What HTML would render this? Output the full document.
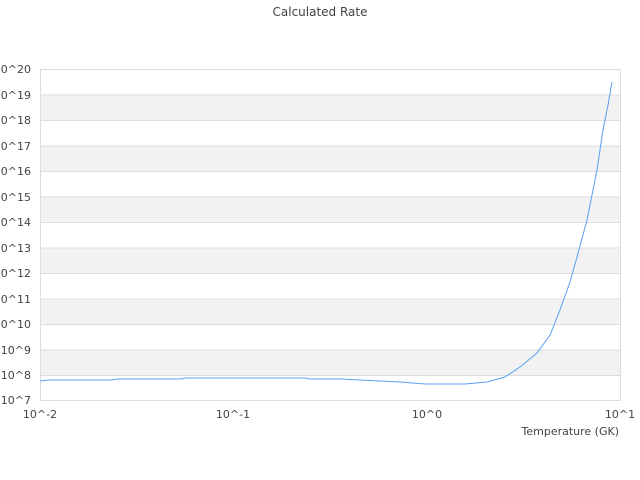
<!DOCTYPE html>
<html><head><style>body{margin:0;background:#fff}svg{display:block}text{font-family:"DejaVu Sans","Liberation Sans",sans-serif;font-size:11px;fill:#444}</style></head><body>
<svg width="640" height="480" xmlns="http://www.w3.org/2000/svg">
<text x="320" y="16" text-anchor="middle" style="font-size:12px">Calculated Rate</text>
<g fill="#f2f2f2">
<rect x="40" y="94.5" width="580" height="25.5"/>
<rect x="40" y="145.5" width="580" height="25.5"/>
<rect x="40" y="196.5" width="580" height="25.5"/>
<rect x="40" y="247.5" width="580" height="25.5"/>
<rect x="40" y="298.5" width="580" height="25.5"/>
<rect x="40" y="349.5" width="580" height="25.5"/>
</g>
<g stroke="#ddd" stroke-width="1">
<line x1="40" y1="69.5" x2="620" y2="69.5"/><line x1="40" y1="95" x2="620" y2="95"/><line x1="40" y1="120.5" x2="620" y2="120.5"/><line x1="40" y1="146" x2="620" y2="146"/><line x1="40" y1="171.5" x2="620" y2="171.5"/><line x1="40" y1="197" x2="620" y2="197"/><line x1="40" y1="222.5" x2="620" y2="222.5"/><line x1="40" y1="248" x2="620" y2="248"/><line x1="40" y1="273.5" x2="620" y2="273.5"/><line x1="40" y1="299" x2="620" y2="299"/><line x1="40" y1="324.5" x2="620" y2="324.5"/><line x1="40" y1="350" x2="620" y2="350"/><line x1="40" y1="375.5" x2="620" y2="375.5"/><line x1="40" y1="400.5" x2="620" y2="400.5"/>
<line x1="40.5" y1="69" x2="40.5" y2="401"/><line x1="620.5" y1="69" x2="620.5" y2="401"/>
</g>
<g text-anchor="end">
<text x="31" y="73">10^20</text><text x="31" y="99">10^19</text><text x="31" y="124">10^18</text><text x="31" y="150">10^17</text><text x="31" y="175">10^16</text><text x="31" y="201">10^15</text><text x="31" y="226">10^14</text><text x="31" y="252">10^13</text><text x="31" y="277">10^12</text><text x="31" y="303">10^11</text><text x="31" y="328">10^10</text><text x="31" y="354">10^9</text><text x="31" y="379">10^8</text><text x="31" y="404">10^7</text>
</g>
<g text-anchor="middle">
<text x="40" y="418">10^-2</text><text x="233" y="418">10^-1</text><text x="427" y="418">10^0</text><text x="620" y="418">10^1</text>
</g>
<text x="619" y="435" text-anchor="end">Temperature (GK)</text>
<polyline fill="none" stroke="#5aa0f0" stroke-width="1" points="40,381 48,380 110,380 118,379 180,379 186,378 305,378 310,379 340,379 360,380 380,381 400,382 425,384 465,384 487,382 505,377 520,367 537,353 550,335 560,310 570,282 577,257 587,220 597,170 603,130 608,105 612,82"/>
</svg>
</body></html>
